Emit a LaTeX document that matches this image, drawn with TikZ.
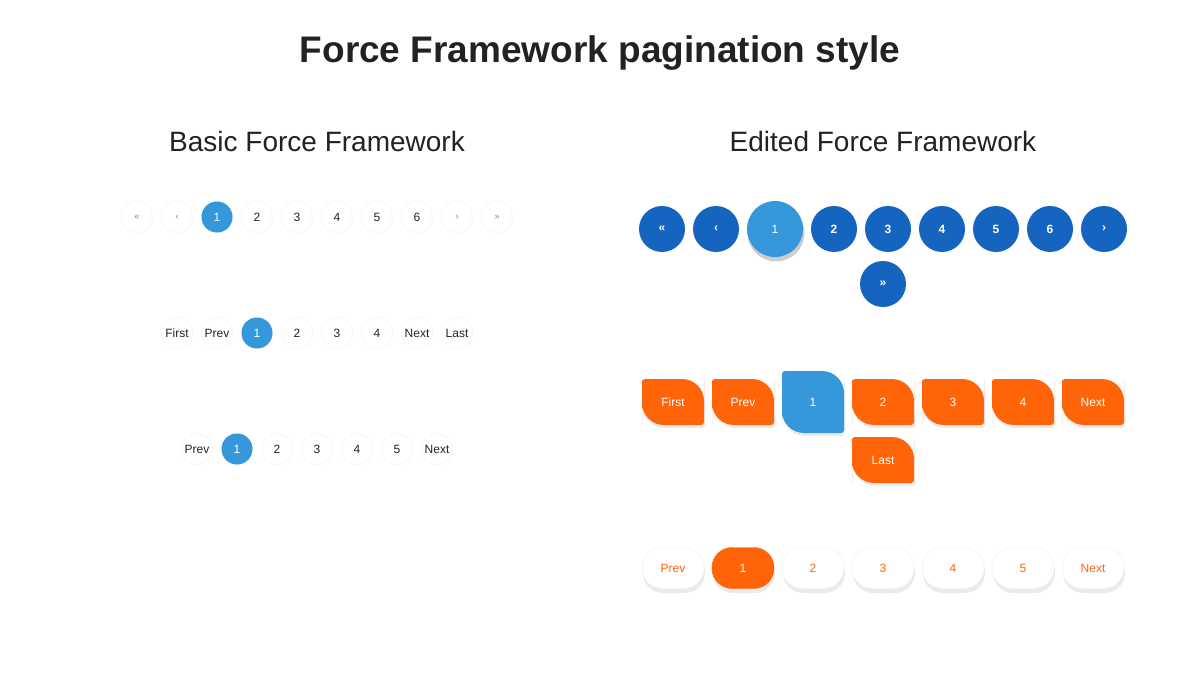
\documentclass[tikz,border=0pt]{standalone}
\usepackage{fontspec}
\setmainfont{Liberation Sans}
\definecolor{pgblue}{HTML}{3498DB}
\definecolor{pgdark}{HTML}{1565C0}
\definecolor{pgorange}{HTML}{FF6508}
\definecolor{pgtext}{HTML}{222222}
\definecolor{pgring}{HTML}{EEEEEE}
% leaf shaped button: x, y (top left), width, height
\newcommand{\leafpath}[4]{(#1,#2+#4/2) [rounded corners=3pt] -- (#1,#2) [rounded corners=22pt] -- (#1+#3,#2) [rounded corners=22pt] -- (#1+#3,#2+#4/2) [rounded corners=3pt] -- (#1+#3,#2+#4) [rounded corners=22pt] -- (#1,#2+#4) -- cycle}

\begin{document}
\begin{tikzpicture}[x=1pt,y=-1pt,font=\fontsize{12}{14}\selectfont,
	plain/.style={circle,draw=pgring,minimum size=31pt,inner sep=0pt,text=pgtext},
	arrow/.style={plain,text=gray,font=\fontsize{9}{11}\selectfont},
	active/.style={circle,fill=pgblue,minimum size=31pt,inner sep=0pt,text=white},
	dark/.style={circle,fill=pgdark,minimum size=46pt,inner sep=0pt,text=white,font=\fontsize{12}{14}\selectfont\bfseries},
	pill/.style={rounded corners=20pt,fill=white,draw=pgring,minimum width=62pt,minimum height=41pt,inner sep=0pt,text=pgorange},
	shadow/.style={fill=black!8}]
\useasboundingbox (0,0) rectangle (1200,682);

%========================================
% Titles
%========================================
\node[font=\fontsize{37}{40}\selectfont\bfseries,text=pgtext] (title) at (600,53) {Force Framework pagination style};
\node[font=\fontsize{28}{30}\selectfont,text=pgtext] (left) at (317,141) {Basic Force Framework};
\node[font=\fontsize{28}{30}\selectfont,text=pgtext] (right) at (883,141) {Edited Force Framework};

%========================================
% LEFT: basic circles
%========================================
\node[arrow] (a1) at (137,217) {«};
\node[arrow] (a2) at (177,217) {‹};
\foreach \t [count=\i from 3] in {1,2,3,4,5,6}
	\node[plain] (a\i) at (97+40*\i,217) {\t};
\node[arrow] (a9) at (457,217) {›};
\node[arrow] (a10) at (497,217) {»};
\node[active] at (a3) {1};

\foreach \t [count=\i] in {First,Prev,1,2,3,4,Next,Last}
	\node[plain] (b\i) at (137+40*\i,333) {\t};
\node[active] at (b3) {1};

\foreach \t [count=\i] in {Prev,1,2,3,4,5,Next}
	\node[plain] (c\i) at (157+40*\i,449) {\t};
\node[active] at (c2) {1};

%========================================
% RIGHT: dark blue circles
%========================================
\foreach \t/\x in {«/662,‹/716,2/834,3/888,4/942,5/996,6/1050,›/1104}
	\node[dark] (d\x) at (\x,229) {\t};
\fill[black!20] (776,233) circle (28.5pt);
\node[circle,fill=pgblue,minimum size=56pt,inner sep=0pt,text=white] (d1) at (775,229) {1};
\node[dark] (dlast) at (883,284) {»};

%========================================
% RIGHT: orange leaf buttons
%========================================
\foreach \t/\x in {First/642,Prev/712,2/852,3/922,4/992,Next/1062}{
	\fill[shadow] \leafpath{\x+1}{382}{62}{46};
	\fill[pgorange] \leafpath{\x}{379}{62}{46};
	\node[text=white] (e\x) at (\x+31,402) {\t};
}
\fill[shadow] \leafpath{783}{374}{62}{62};
\fill[pgblue] \leafpath{782}{371}{62}{62};
\node[text=white] (e1) at (813,402) {1};
\fill[shadow] \leafpath{853}{440}{62}{46};
\fill[pgorange] \leafpath{852}{437}{62}{46};
\node[text=white] (elast) at (883,460) {Last};

%========================================
% RIGHT: pills
%========================================
\foreach \t [count=\i] in {Prev,1,2,3,4,5,Next}{
	\fill[shadow,rounded corners=20pt] (573+70*\i,551) rectangle (635+70*\i,593);
	\node[pill] (f\i) at (603+70*\i,568) {\t};
}
\node[pill,fill=pgorange,draw=pgorange,text=white] at (f2) {1};
\end{tikzpicture}
\end{document}
